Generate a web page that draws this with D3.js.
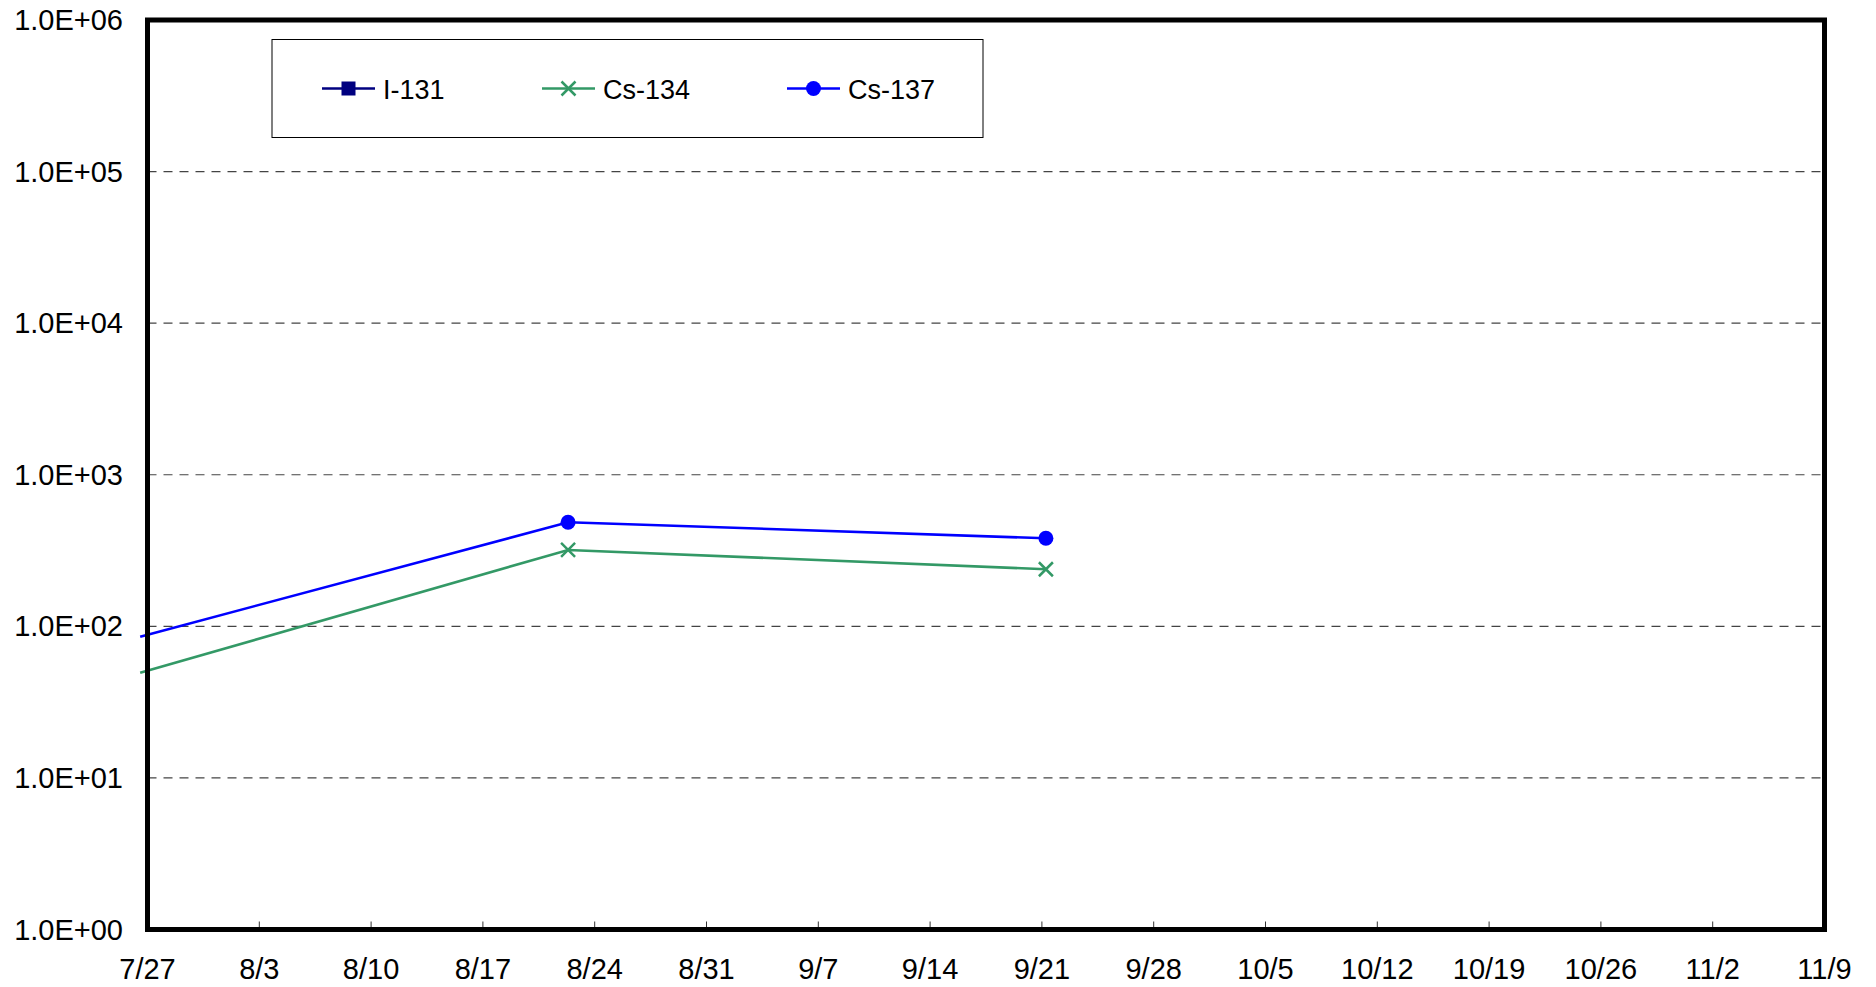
<!DOCTYPE html>
<html>
<head>
<meta charset="utf-8">
<script src="https://cdn.jsdelivr.net/npm/d3@7"></script>
<style>
  html, body { margin: 0; padding: 0; background: #fff; }
  svg { display: block; }
  text { font-family: "Liberation Sans", Arial, sans-serif; fill: #000; }
</style>
</head>
<body>
<svg id="chart" width="1876" height="987"></svg>
<script>
// ---- data ----
const seriesNames = ["I-131", "Cs-134", "Cs-137"];
const seriesColors = ["#000080", "#339966", "#0000FF"];
const seriesMarkers = ["square", "cross", "circle"];

const i131Dates = [];
const i131Values = [];

const cs134Dates = ["2011-07-26T13:00", "2011-08-22T08:00", "2011-09-21T06:00"];
const cs134Values = [49.4, 319, 238];

const cs137Dates = ["2011-07-26T13:00", "2011-08-22T08:00", "2011-09-21T06:00"];
const cs137Values = [85.4, 486, 381];

const xTickDates = ["2011-07-27","2011-08-03","2011-08-10","2011-08-17","2011-08-24","2011-08-31",
  "2011-09-07","2011-09-14","2011-09-21","2011-09-28","2011-10-05","2011-10-12","2011-10-19",
  "2011-10-26","2011-11-02","2011-11-09"];
const xTickLabels = ["7/27","8/3","8/10","8/17","8/24","8/31","9/7","9/14","9/21","9/28",
  "10/5","10/12","10/19","10/26","11/2","11/9"];
const yTickValues = [1, 10, 100, 1000, 10000, 100000, 1000000];
const yTickLabels = ["1.0E+00","1.0E+01","1.0E+02","1.0E+03","1.0E+04","1.0E+05","1.0E+06"];

// ---- layout ----
const L = 147.5, R = 1824.5, T = 20, B = 929.5;
const parse = d3.utcParse("%Y-%m-%dT%H:%M");
const parseDay = d3.utcParse("%Y-%m-%d");

const x = d3.scaleUtc()
  .domain([parseDay(xTickDates[0]), parseDay(xTickDates[xTickDates.length - 1])])
  .range([L, R]);
const y = d3.scaleLog().domain([1, 1e6]).range([B, T]);

const svg = d3.select("#chart");

// gridlines
svg.append("g")
  .selectAll("line")
  .data(yTickValues.filter(v => v > 1 && v < 1e6))
  .join("line")
  .attr("x1", L).attr("x2", R)
  .attr("y1", d => y(d)).attr("y2", d => y(d))
  .attr("stroke", "#444")
  .attr("stroke-width", 1.2)
  .attr("stroke-dasharray", "9,7");

// x ticks (inward)
svg.append("g")
  .selectAll("line")
  .data(xTickDates.slice(1, -1))
  .join("line")
  .attr("x1", d => x(parseDay(d))).attr("x2", d => x(parseDay(d)))
  .attr("y1", B - 8).attr("y2", B)
  .attr("stroke", "#333")
  .attr("stroke-width", 1);

// x tick labels
svg.append("g")
  .selectAll("text")
  .data(xTickDates)
  .join("text")
  .attr("x", d => x(parseDay(d)))
  .attr("y", 979)
  .attr("text-anchor", "middle")
  .attr("font-size", 29)
  .text((d, i) => xTickLabels[i]);

// y tick labels
svg.append("g")
  .selectAll("text")
  .data(yTickValues)
  .join("text")
  .attr("x", 123)
  .attr("y", d => y(d) + 10)
  .attr("text-anchor", "end")
  .attr("font-size", 29)
  .text((d, i) => yTickLabels[i]);

// series
const series = [
  { name: seriesNames[0], color: seriesColors[0], marker: seriesMarkers[0],
    pts: i131Dates.map((d, i) => ({ date: parse(d), v: i131Values[i] })) },
  { name: seriesNames[1], color: seriesColors[1], marker: seriesMarkers[1],
    pts: cs134Dates.map((d, i) => ({ date: parse(d), v: cs134Values[i] })) },
  { name: seriesNames[2], color: seriesColors[2], marker: seriesMarkers[2],
    pts: cs137Dates.map((d, i) => ({ date: parse(d), v: cs137Values[i] })) }
];

const line = d3.line().x(d => x(d.date)).y(d => y(d.v));

function drawMarker(g, type, cx, cy, color, isLegend) {
  if (type === "square") {
    g.append("rect").attr("x", cx - 7).attr("y", cy - 7).attr("width", 14).attr("height", 14)
      .attr("fill", color);
  } else if (type === "circle") {
    g.append("circle").attr("cx", cx).attr("cy", cy).attr("r", 7.5).attr("fill", color);
  } else if (type === "cross") {
    const s = 7;
    g.append("path")
      .attr("d", `M${cx - s},${cy - s}L${cx + s},${cy + s}M${cx - s},${cy + s}L${cx + s},${cy - s}`)
      .attr("stroke", color).attr("stroke-width", 2.5).attr("fill", "none");
  }
}

series.forEach(s => {
  if (s.pts.length === 0) return;
  svg.append("path")
    .datum(s.pts)
    .attr("d", line)
    .attr("fill", "none")
    .attr("stroke", s.color)
    .attr("stroke-width", 2.6);
  const g = svg.append("g");
  s.pts.forEach(p => {
    if (x(p.date) >= L) drawMarker(g, s.marker, x(p.date), y(p.v), s.color);
  });
});

// frame
svg.append("rect")
  .attr("x", L).attr("y", T)
  .attr("width", R - L).attr("height", B - T)
  .attr("fill", "none")
  .attr("stroke", "#000")
  .attr("stroke-width", 5);

// legend
const lg = svg.append("g");
lg.append("rect")
  .attr("x", 272).attr("y", 39.5)
  .attr("width", 711).attr("height", 98)
  .attr("fill", "#fff")
  .attr("stroke", "#000")
  .attr("stroke-width", 1);

const legendX = [322, 542, 787];
const legendY = 88.5;
series.forEach((s, i) => {
  const x0 = legendX[i];
  lg.append("line")
    .attr("x1", x0).attr("x2", x0 + 53)
    .attr("y1", legendY).attr("y2", legendY)
    .attr("stroke", s.color).attr("stroke-width", 2.6);
  drawMarker(lg, s.marker, x0 + 26.5, legendY, s.color, true);
  lg.append("text")
    .attr("x", x0 + 61)
    .attr("y", legendY + 10)
    .attr("font-size", 27)
    .text(s.name);
});
</script>
</body>
</html>
